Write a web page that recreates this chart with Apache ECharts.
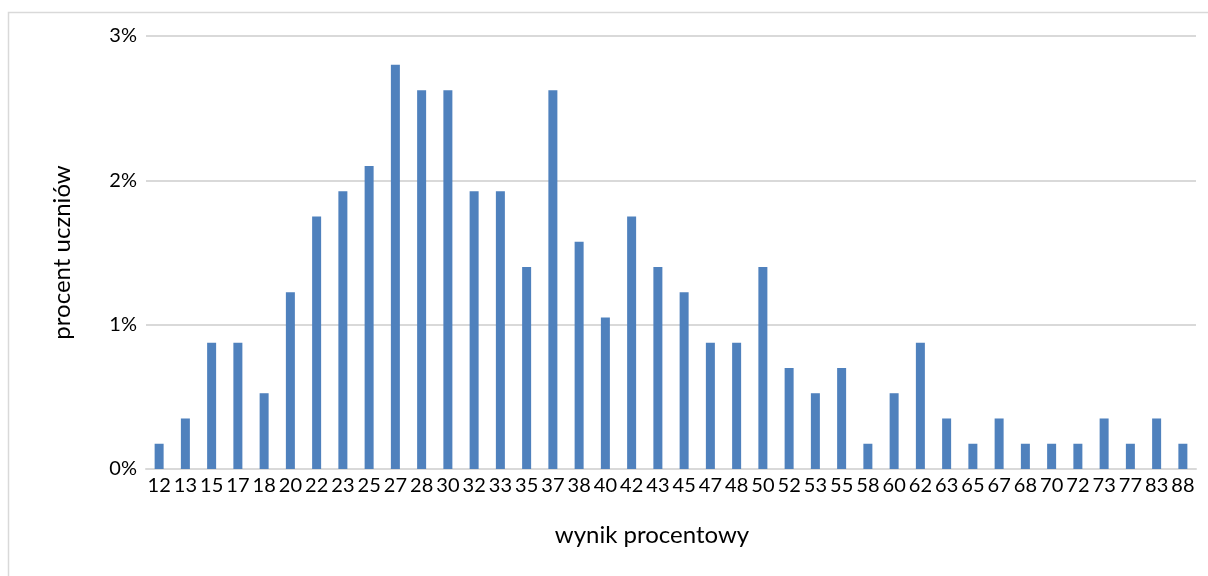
<!DOCTYPE html>
<html>
<head>
<meta charset="utf-8">
<script src="https://cdn.jsdelivr.net/npm/echarts@6/dist/echarts.min.js"></script>
<style>
html,body{margin:0;padding:0;background:#fff;}
#chart{width:1208px;height:576px;}
</style>
</head>
<body>
<div id="chart"></div>
<script>
const categories = ['12','13','15','17','18','20','22','23','25','27','28','30','32','33','35','37','38','40','42','43','45','47','48','50','52','53','55','58','60','62','63','65','67','68','70','72','73','77','83','88'];
const values = [0.175,0.35,0.875,0.875,0.525,1.225,1.75,1.925,2.1,2.8,2.625,2.625,1.925,1.925,1.4,2.625,1.575,1.05,1.75,1.4,1.225,0.875,0.875,1.4,0.7,0.525,0.7,0.175,0.525,0.875,0.35,0.175,0.35,0.175,0.175,0.175,0.35,0.175,0.35,0.175];
const yTicks = [0,1,2,3];
const xTitle = 'wynik procentowy';
const yTitle = 'procent uczniów';

const chart = echarts.init(document.getElementById('chart'), null, {renderer:'canvas'});
const font = 'Lato, Carlito, sans-serif';
chart.setOption({
  animation:false,
  backgroundColor:'#fff',
  graphic:[{
    type:'rect', silent:true, z:-1,
    shape:{x:8.5,y:12.5,width:1400,height:800},
    style:{fill:null,stroke:'#d9d9d9',lineWidth:1.5}
  }],
  grid:{left:146,right:12,top:36,bottom:107,containLabel:false},
  xAxis:{
    type:'category', data:categories,
    axisLine:{show:true,lineStyle:{color:'#d9d9d9',width:2}},
    axisTick:{show:false},
    axisLabel:{color:'#000',fontFamily:font,fontSize:20,margin:7,interval:0},
    name:xTitle, nameLocation:'middle', nameGap:54,
    nameTextStyle:{color:'#000',fontFamily:font,fontSize:24,padding:[0,38,0,0]}
  },
  yAxis:{
    type:'value', min:yTicks[0], max:yTicks[yTicks.length-1], interval:1,
    axisLine:{show:false}, axisTick:{show:false},
    splitLine:{lineStyle:{color:'#d9d9d9',width:2}},
    axisLabel:{color:'#000',fontFamily:font,fontSize:20,margin:9,formatter:'{value}%'},
    name:yTitle, nameLocation:'middle', nameGap:72, nameRotate:90,
    nameTextStyle:{color:'#000',fontFamily:font,fontSize:24}
  },
  series:[{
    type:'bar', data:values, barWidth:9,
    itemStyle:{color:'#4f81bd'}
  }]
});
</script>
</body>
</html>
